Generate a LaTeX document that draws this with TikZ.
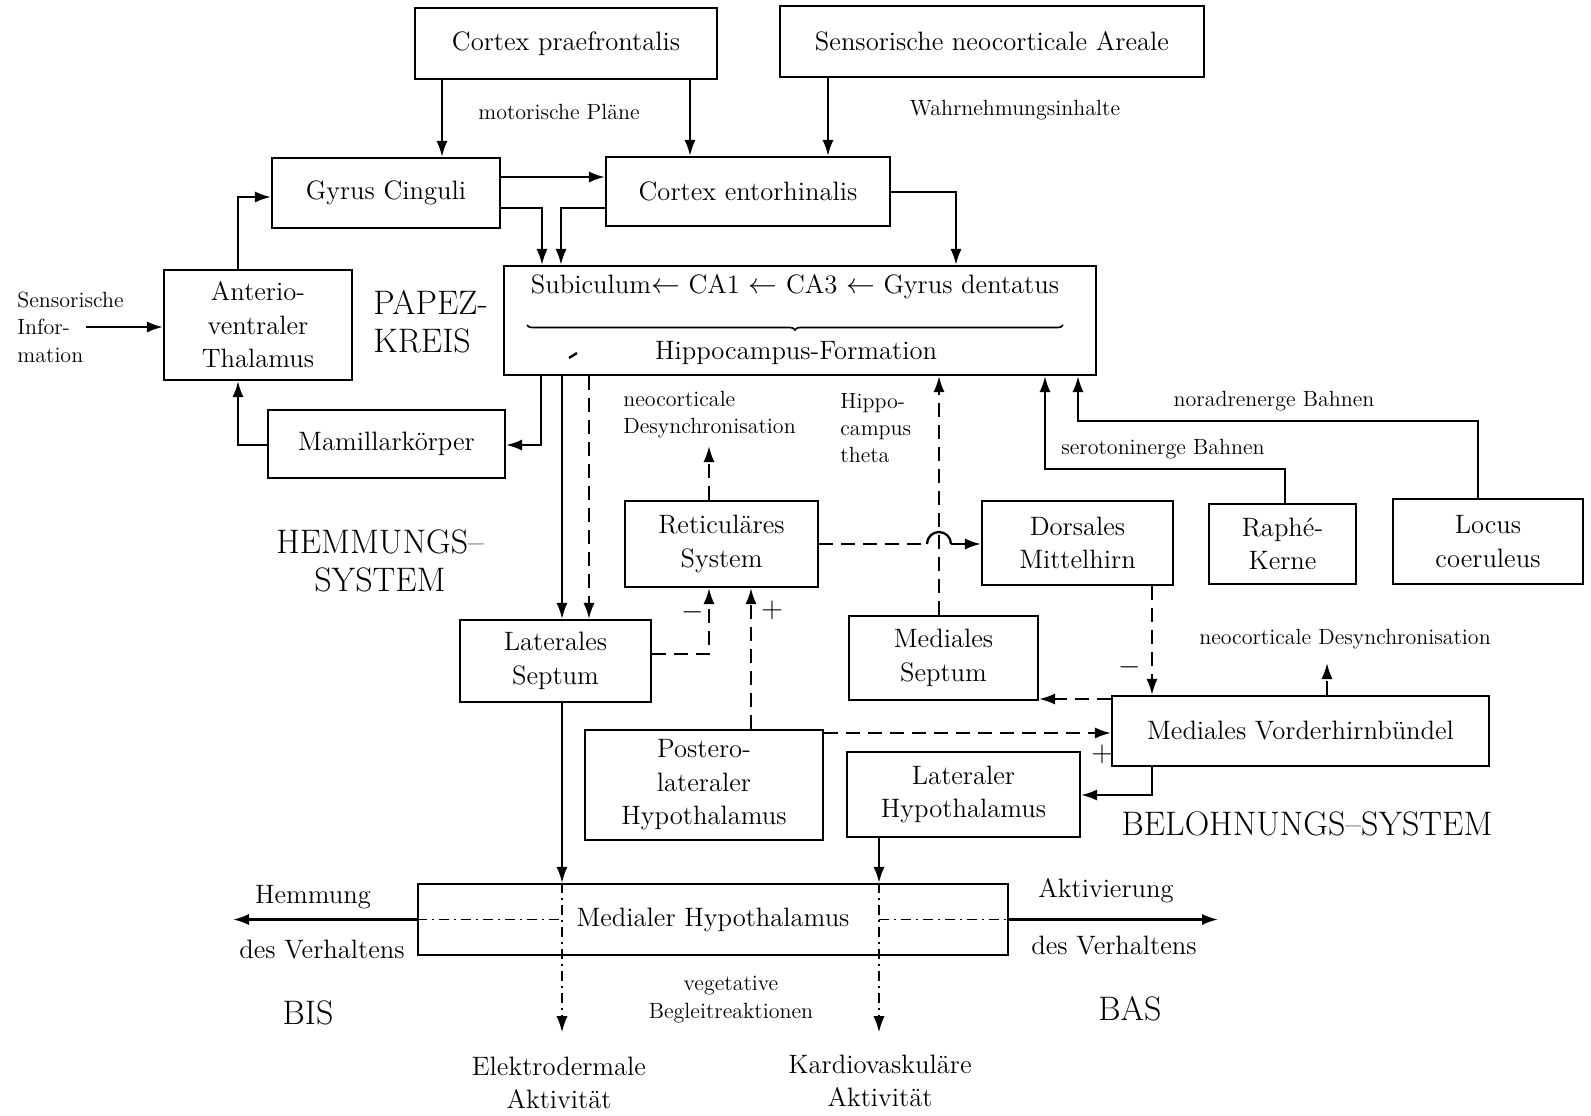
\documentclass[tikz,border=0pt]{standalone}
\usetikzlibrary{arrows.meta,decorations.pathreplacing}
\newcommand\fntbox{\fontsize{13.3}{16.8}\selectfont}
\newcommand\fntsmall{\fontsize{11}{13.6}\selectfont}
\newcommand\fntbig{\fontsize{17}{19}\selectfont}
\begin{document}
\begin{tikzpicture}[x=0.5pt,y=-0.5pt,
  box/.style={draw,line width=1.1pt,inner sep=0pt,align=center,font=\fntbox},
  ln/.style={line width=1.15pt},
  con/.style={ln,-{Latex[length=8pt,width=5.6pt]}},
  dsh/.style={dash pattern=on 7pt off 4pt},
  dd/.style={line width=0.6pt,dash pattern=on 5pt off 2.5pt on 1pt off 2.5pt},
  lbl/.style={inner sep=0pt,font=\fntsmall},
  lblm/.style={inner sep=0pt,font=\fntbox},
  lblb/.style={inner sep=0pt,font=\fntbig}]
\useasboundingbox (0,0) rectangle (1591,1115);

% ---------- boxes ----------
\node[box,minimum width=151pt,minimum height=35.5pt] (cp) at (566,43.5) {Cortex praefrontalis};
\node[box,minimum width=212pt,minimum height=35.5pt] (sna) at (992,41.5) {Sensorische neocorticale Areale};
\node[box,minimum width=114pt,minimum height=35pt] (gc) at (386,193) {Gyrus Cinguli};
\node[box,minimum width=142pt,minimum height=34.5pt] (ce) at (748,191.5) {Cortex entorhinalis};
\node[box,minimum width=94pt,minimum height=55pt] (avt) at (258,325) {Anterio-\\ventraler\\Thalamus};
\node[box,minimum width=296pt,minimum height=54.5pt] (hip) at (800,320.5) {};
\node[box,minimum width=118.5pt,minimum height=34pt] (mam) at (386.5,444) {Mamillark\"orper};
\node[box,minimum width=96.5pt,minimum height=43pt] (ret) at (721.5,544) {Reticul\"ares\\System};
\node[box,minimum width=95.5pt,minimum height=42pt] (dm) at (1077.5,543) {Dorsales\\Mittelhirn};
\node[box,minimum width=73.5pt,minimum height=40pt] (raphe) at (1282.5,544) {Raph\'e-\\Kerne};
\node[box,minimum width=95pt,minimum height=42.5pt] (lc) at (1488,541.5) {Locus\\coeruleus};
\node[box,minimum width=95.5pt,minimum height=41pt] (ls) at (555.5,661) {Laterales\\Septum};
\node[box,minimum width=94.5pt,minimum height=42pt] (ms) at (943.5,658) {Mediales\\Septum};
\node[box,minimum width=188.5pt,minimum height=35pt] (mvb) at (1300.5,731) {Mediales Vorderhirnb\"undel};
\node[box,minimum width=119pt,minimum height=55pt] (plh) at (704,785) {Postero-\\lateraler\\Hypothalamus};
\node[box,minimum width=116.5pt,minimum height=42.5pt] (lh) at (963.5,794.5) {Lateraler\\Hypothalamus};
\node[box,minimum width=295pt,minimum height=35.5pt] (mh) at (713,919.5) {Medialer Hypothalamus};

% ---------- inside the hippocampus box ----------
\node[lblm] (hipA) at (795,287) {Subiculum$\leftarrow$ CA1 $\leftarrow$ CA3 $\leftarrow$ Gyrus dentatus};
\draw[line width=0.8pt,decorate,decoration={brace,amplitude=2.5pt}] (1063,325) -- (527,325);
\node[lblm] (hipB) at (796,353) {Hippocampus-Formation};
\draw[line width=1.2pt] (569,358) -- (577,353);

% ---------- free text ----------
\node[lbl] (mp) at (559,112) {motorische Pl\"ane};
\node[lbl] (wi) at (1015,110) {Wahrnehmungsinhalte};
\node[lbl,anchor=west,align=left,font=\fontsize{11}{13.75}\selectfont] (si) at (17,327) {Sensorische\\Infor-\\mation};
\node[lblb,anchor=west,align=left,font=\fontsize{17}{18.8}\selectfont] (papez) at (373,321.5) {PAPEZ-\\KREIS};
\node[lblb,align=center,font=\fontsize{17}{19.3}\selectfont] (hs) at (380,561) {HEMMUNGS--\\SYSTEM};
\node[lbl,anchor=west,align=left] (nd1) at (623,414.5) {neocorticale\\Desynchronisation};
\node[lbl,anchor=west,align=left] (ht) at (840,428) {Hippo-\\campus\\theta};
\node[lbl] (nb) at (1274,401) {noradrenerge Bahnen};
\node[lbl] (sb) at (1163,449) {serotoninerge Bahnen};
\node[lbl] (nd2) at (1345,639) {neocorticale Desynchronisation};
\node[lblb] (bs) at (1307,824) {BELOHNUNGS--SYSTEM};
\node[lblm] (hm) at (313,897) {Hemmung};
\node[lblm] (dvl) at (322,950) {des Verhaltens};
\node[lblm] (ak) at (1106,891) {Aktivierung};
\node[lblm] (dvr) at (1114,946) {des Verhaltens};
\node[lblb] (bis) at (308,1013) {BIS};
\node[lblb] (bas) at (1130,1009) {BAS};
\node[lbl,align=center] (veg) at (731,999.5) {vegetative\\Begleitreaktionen};
\node[lblm,align=center,font=\fontsize{13.3}{16.5}\selectfont] (eda) at (559,1082.5) {Elektrodermale\\Aktivit\"at};
\node[lblm,align=center,font=\fontsize{13.3}{16.5}\selectfont] (kva) at (880,1080.5) {Kardiovaskul\"are\\Aktivit\"at};
\node[lblm] (s1) at (693,612) {$-$};
\node[lblm] (s2) at (772,610) {$+$};
\node[lblm] (s3) at (1130,667) {$-$};
\node[lblm] (s4) at (1102,754) {$+$};

% ---------- free ends of connectors ----------
\coordinate (siA) at (86,327);
\coordinate (ndA) at (709,446);
\coordinate (ndB) at (1327,663);
\coordinate (hmA) at (233,919.5);
\coordinate (akA) at (1218,919.5);
\coordinate (edA) at (562,1032);
\coordinate (kvA) at (879,1032);
\coordinate (hopL) at (927,544);
\coordinate (hopR) at (951,544);

% ---------- Papez circuit ----------
\draw[con] (cp.south -| 442,0) -- (gc.north -| 442,0);
\draw[con] (cp.south -| 690,0) -- (ce.north -| 690,0);
\draw[con] (sna.south -| 828,0) -- (ce.north -| 828,0);
\draw[con] (gc.east |- 0,177) -- (ce.west |- 0,177);
\draw[con] (gc.east |- 0,208) -| (hip.north -| 542,0);
\draw[con] (ce.west |- 0,208) -| (hip.north -| 561,0);
\draw[con] (ce.east |- 0,192) -| (hip.north -| 956,0);
\draw[con] (avt.north -| 238,0) |- (gc.west |- 0,197);
\draw[con] (mam.west |- 0,445) -| (avt.south -| 238,0);
\draw[con] (hip.south -| 541,0) |- (mam.east |- 0,445);
\draw[con] (siA) -- (avt.west |- siA);

% ---------- hippocampus outputs and inputs ----------
\draw[con] (hip.south -| 562,0) -- (ls.north -| 562,0);
\draw[con,dsh] (hip.south -| 589,0) -- (ls.north -| 589,0);
\draw[con,dsh] (ms.north -| 939,0) -- (hip.south -| 939,0);
\draw[con] (raphe.north -| 1285,0) -- (1285,469) -| (hip.south -| 1045,0);
\draw[con] (lc.north -| 1478,0) -- (1478,421) -| (hip.south -| 1078,0);

% ---------- reticular system (with a hop over the septal line) ----------
\draw[con,dsh] (ret.north -| ndA) -- (ndA);
\draw[ln,dsh] (ret.east) -- (hopL);
\draw[ln] (hopL) arc[start angle=180,end angle=360,radius=12];
\draw[con,dsh] (hopR) -- (dm.west |- hopR);
\draw[con,dsh] (ls.east |- 0,654) -| (ret.south -| 709,0);
\draw[con,dsh] (plh.north -| 751,0) -- (ret.south -| 751,0);

% ---------- reward system ----------
\draw[con,dsh] (plh.east |- 0,733) -- (mvb.west |- 0,733);
\draw[con,dsh] (dm.south -| 1152,0) -- (mvb.north -| 1152,0);
\draw[con,dsh] (mvb.west |- 0,699) -- (ms.east |- 0,699);
\draw[con,dsh] (mvb.north -| ndB) -- (ndB);
\draw[con] (mvb.south -| 1152,0) |- (lh.east |- 0,795);

% ---------- medial hypothalamus ----------
\draw[con] (ls.south -| 562,0) -- (mh.north -| 562,0);
\draw[con] (lh.south -| 879,0) -- (mh.north -| 879,0);
\draw[dd,-{Latex[length=8pt,width=5.6pt]}] (mh.north -| edA) -- (edA);
\draw[dd,-{Latex[length=8pt,width=5.6pt]}] (mh.north -| kvA) -- (kvA);
\draw[dd] (mh.west) -- (mh.west -| edA);
\draw[dd] (mh.east -| kvA) -- (mh.east);
\draw[con] (mh.west) -- (hmA);
\draw[con] (mh.east) -- (akA);
\end{tikzpicture}
\end{document}
